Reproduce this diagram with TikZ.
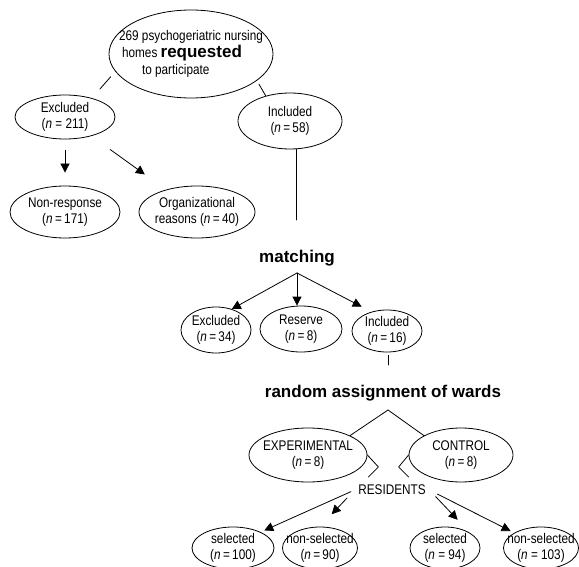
\documentclass[tikz,border=0pt]{standalone}
\usepackage{fontspec}
\setmainfont{Liberation Sans}[FakeStretch=0.84]
\newfontfamily\headfont{Liberation Sans}
\usetikzlibrary{shapes.geometric,arrows.meta}
\newcommand{\enn}{\textit{n}}
\tikzset{
  ell/.style={draw, ellipse, inner xsep=-80pt, inner ysep=-40pt, align=center},
  head/.style={font=\headfont\bfseries\fontsize{17}{20}\selectfont},
}
\begin{document}
\begin{tikzpicture}[x=1pt,y=-1pt,line cap=round,line join=round,>={Triangle[length=9pt,width=9pt]},line width=0.8pt,font=\fontsize{14}{16}\selectfont]
\useasboundingbox (0,0) rectangle (579,567);
% requested homes
\node[ell, minimum width=164, minimum height=88, align=left] (req) at (191,54) {269 psychogeriatric nursing\\[1pt]\hspace*{3pt}homes {\headfont\bfseries\fontsize{17}{20}\selectfont requested}\\[1pt]\hspace*{23pt}to participate};
\node[ell, minimum width=100, minimum height=44] (exc1) at (65,117) {Excluded\\(\enn{} = 211)};
\node[ell, minimum width=104, minimum height=56] (inc1) at (290,121) {Included\\(\enn\,=\,58)};
\node[ell, minimum width=110, minimum height=52] (nonresp) at (65,212) {Non-response\\(\enn\,=\,171)};
\node[ell, minimum width=116, minimum height=52] (org) at (197,212) {Organizational\\reasons (\enn\,=\,40)};
\draw[shorten <=7pt, shorten >=12pt] (req.193) -- (exc1.35);
\draw[shorten <=4pt] (req.-22) -- (inc1.134);
\draw[->, shorten <=11pt, shorten >=13pt] (exc1) -- (nonresp);
\draw[->, shorten <=23pt, shorten >=26pt] (exc1) -- (org);
% matching
\node[head] (match) at (297,258) {matching};
\coordinate (m0) at (296,220);
\coordinate (mtop) at (297,273);
\draw (inc1.south -| m0) -- (m0);
\node[ell, minimum width=70, minimum height=46] (exc2) at (216,330) {Excluded\\(\enn\,=\,34)};
\node[ell, minimum width=82, minimum height=46] (rsv) at (301,329) {Reserve\\(\enn\,=\,8)};
\node[ell, minimum width=70, minimum height=42] (inc2) at (387,331) {Included\\(\enn\,=\,16)};
\draw[->] (mtop) -- (exc2.53);
\draw[->] (mtop) -- (mtop |- rsv.north);
\draw[->, shorten >=11pt] (mtop) -- (inc2.129);
% random assignment
\node[head] (rnd) at (383,393) {random assignment of wards};
\coordinate (r0) at (388,365);
\coordinate (apex) at (388,410);
\draw[shorten <=3pt] (inc2.south -| r0) -- (r0);
\node[ell, minimum width=118, minimum height=54] (exper) at (308,455) {EXPERIMENTAL\\(\enn\,=\,8)};
\node[ell, minimum width=104, minimum height=54] (ctrl) at (461,455) {CONTROL\\(\enn\,=\,8)};
\draw (apex) -- (exper.north east);
\draw (apex) -- (ctrl.north west);
\draw (exper.east) -- ++(11,12) -- ++(-10,10);
\draw (ctrl.west) -- ++(-10,12) -- ++(10,10);
% residents
\node (res) at (392,490) {RESIDENTS};
\node[ell, minimum width=82, minimum height=42] (sel1) at (233,548) {selected\\(\enn\,=\,100)};
\node[ell, minimum width=75, minimum height=42] (nsel1) at (320,548) {non-selected\\(\enn\,=\,90)};
\node[ell, minimum width=70, minimum height=42] (sel2) at (445,548) {selected\\(\enn{} = 94)};
\node[ell, minimum width=75, minimum height=42] (nsel2) at (541,548) {non-selected\\(\enn{} = 103)};
\draw[->, shorten <=4pt, shorten >=4pt] (res.west) -- (sel1.30);
\draw[->, shorten <=11pt, shorten >=17pt] (res.west) -- (nsel1.north);
\draw[->, shorten <=9pt, shorten >=18pt] (res.east) -- (sel2.north east);
\draw[->, shorten <=9pt, shorten >=4pt] (res.east) -- (nsel2.north west);
\end{tikzpicture}
\end{document}
